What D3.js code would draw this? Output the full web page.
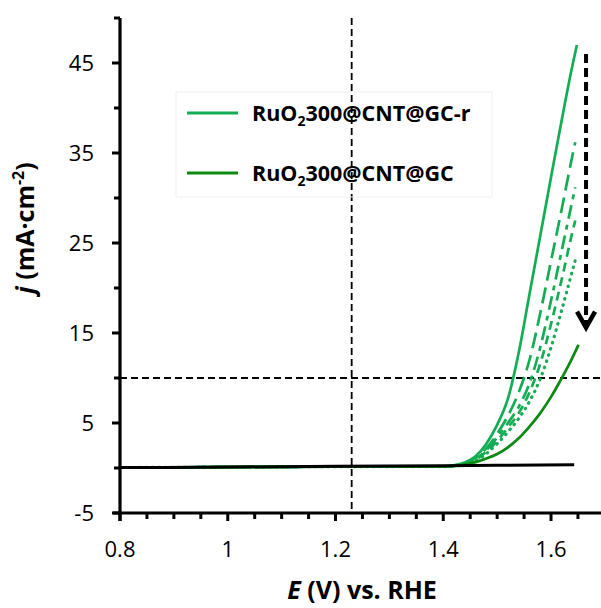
<!DOCTYPE html>
<html><head><meta charset="utf-8">
<script src="https://cdn.jsdelivr.net/npm/d3@7"></script>
<style>body{margin:0;background:#fff}svg{display:block}</style>
</head><body>
<script>
// ---- data ----
const gridE = [0.80, 1.00, 1.20, 1.40, 1.42, 1.44, 1.46, 1.48, 1.50, 1.52, 1.54, 1.56, 1.58, 1.60, 1.62, 1.64];
const scan1 = [0.05, 0.1, 0.15, 0.18, 0.3, 0.6, 1.3, 2.7, 4.8, 7.7, 12.8, 19.3, 25.8, 32.3, 38.7, 44.8];
const scan2 = [0.05, 0.1, 0.15, 0.17, 0.27, 0.5, 1.1, 2.2, 3.8, 5.8, 8.4, 12.0, 17.2, 23.0, 28.8, 34.8];
const scan3 = [0.05, 0.1, 0.15, 0.17, 0.25, 0.45, 1.0, 2.0, 3.4, 5.0, 6.8, 9.4, 13.4, 18.6, 24.2, 29.8];
const scan4 = [0.05, 0.1, 0.15, 0.16, 0.24, 0.4, 0.9, 1.8, 3.0, 4.5, 6.1, 8.4, 11.6, 16.0, 21.0, 26.3];
const scan5 = [0.05, 0.1, 0.15, 0.16, 0.22, 0.38, 0.8, 1.6, 2.7, 4.0, 5.5, 7.4, 9.9, 13.4, 17.6, 22.0];
const scanEnd = [[1.648, 47.0], [1.645, 36.2], [1.645, 31.2], [1.645, 27.5], [1.645, 23.1]];
const gcJ = [0.05, 0.1, 0.15, 0.16, 0.22, 0.38, 0.65, 1.05, 1.55, 2.3, 3.3, 4.6, 6.1, 7.9, 10.0, 12.3];
const gcEnd = [1.651, 13.7];
const blankE = [0.80, 1.00, 1.20, 1.40, 1.50, 1.643];
const blankJ = [0.05, 0.1, 0.2, 0.25, 0.3, 0.35];
const xTicks = [0.8, 1, 1.2, 1.4, 1.6];
const yTicks = [-5, 5, 15, 25, 35, 45];
const refE = 1.23, refJ = 10;
const arrowE = 1.665, arrowFrom = 46, arrowTo = 15.6;
const legendLabels = ["RuO|2|300@CNT@GC-r", "RuO|2|300@CNT@GC"];

const W = 601, H = 608;
const lightGreen = "#14ad54", darkGreen = "#0d8a12";
const x = d3.scaleLinear().domain([0.8, 1.7]).range([120, 604.9]);
const y = d3.scaleLinear().domain([-5, 50]).range([513, 18]);

const svg = d3.select("body").append("svg").attr("width", W).attr("height", H);
const font = "'Open Sans', sans-serif";

// reference dashed lines
svg.append("line").attr("x1", x(refE)).attr("x2", x(refE)).attr("y1", y(50)).attr("y2", y(-5))
  .attr("stroke", "#000").attr("stroke-width", 1.8).attr("stroke-dasharray", "7,4");
svg.append("line").attr("x1", x(0.8)).attr("x2", W).attr("y1", y(refJ)).attr("y2", y(refJ))
  .attr("stroke", "#000").attr("stroke-width", 1.8).attr("stroke-dasharray", "7,4");

// curves
const line = d3.line().x(d => x(d[0])).y(d => y(d[1])).curve(d3.curveMonotoneX);
const scans = [scan1, scan2, scan3, scan4, scan5];
const dashes = [null, "16,7", "14,6,5,6", "9,6", "0.5,6"];
scans.forEach((s, i) => {
  const pts = gridE.map((e, k) => [e, s[k]]).concat([scanEnd[i]]);
  svg.append("path").attr("d", line(pts)).attr("fill", "none")
    .attr("stroke", lightGreen).attr("stroke-width", i === 4 ? 3.2 : 2.7)
    .attr("stroke-linecap", i === 4 ? "round" : "butt")
    .attr("stroke-dasharray", dashes[i]);
});
svg.append("path").attr("d", line(gridE.map((e, k) => [e, gcJ[k]]).concat([gcEnd])))
  .attr("fill", "none").attr("stroke", darkGreen).attr("stroke-width", 2.7);
svg.append("path").attr("d", line(blankE.map((e, k) => [e, blankJ[k]])))
  .attr("fill", "none").attr("stroke", "#000").attr("stroke-width", 3);

// arrow
svg.append("line").attr("x1", x(arrowE)).attr("x2", x(arrowE)).attr("y1", y(arrowFrom)).attr("y2", y(arrowTo) - 4)
  .attr("stroke", "#000").attr("stroke-width", 4).attr("stroke-dasharray", "9,5");
svg.append("path")
  .attr("d", `M${x(arrowE) - 9},${y(arrowTo) - 16} L${x(arrowE)},${y(arrowTo)} L${x(arrowE) + 9},${y(arrowTo) - 16}`)
  .attr("fill", "none").attr("stroke", "#000").attr("stroke-width", 4.5);

// axes
const ax = svg.append("g");
ax.append("line").attr("x1", 113).attr("x2", W).attr("y1", y(-5)).attr("y2", y(-5)).attr("stroke", "#000").attr("stroke-width", 3.2);
ax.append("line").attr("x1", x(0.8)).attr("x2", x(0.8)).attr("y1", y(50)).attr("y2", y(-5) + 8).attr("stroke", "#000").attr("stroke-width", 3.2);
d3.range(0.8, 1.7001, 0.05).forEach(v => {
  const major = xTicks.some(t => Math.abs(t - v) < 1e-6);
  ax.append("line").attr("x1", x(v)).attr("x2", x(v)).attr("y1", y(-5)).attr("y2", y(-5) + (major ? 8 : 6))
    .attr("stroke", "#000").attr("stroke-width", 3);
});
d3.range(-5, 50.001, 5).forEach(v => {
  const major = yTicks.includes(v);
  ax.append("line").attr("x1", x(0.8) - (major ? 8 : 6)).attr("x2", x(0.8)).attr("y1", y(v)).attr("y2", y(v))
    .attr("stroke", "#000").attr("stroke-width", 3);
});
xTicks.forEach(t => {
  svg.append("text").attr("x", x(t)).attr("y", 557).attr("text-anchor", "middle")
    .attr("font-family", font).attr("font-size", 22).attr("fill", "#000").text(String(t));
});
yTicks.forEach(t => {
  svg.append("text").attr("x", 94).attr("y", y(t) + 8).attr("text-anchor", "end")
    .attr("font-family", font).attr("font-size", 22).attr("fill", "#000").text(String(t));
});

// axis titles
const xt = svg.append("text").attr("x", 362).attr("y", 599).attr("text-anchor", "middle")
  .attr("font-family", font).attr("font-size", 25).attr("font-weight", 700).attr("fill", "#000");
xt.append("tspan").attr("font-style", "italic").text("E");
xt.append("tspan").text(" (V) vs. RHE");

const yt = svg.append("text").attr("transform", "translate(34,228) rotate(-90)").attr("text-anchor", "middle")
  .attr("font-family", font).attr("font-size", 25).attr("font-weight", 700).attr("fill", "#000");
yt.append("tspan").attr("font-style", "italic").text("j");
yt.append("tspan").text(" (mA·cm");
yt.append("tspan").attr("font-size", 16).attr("dy", -10).text("-2");
yt.append("tspan").attr("dy", 10).text(")");

// legend
svg.append("rect").attr("x", 176).attr("y", 92).attr("width", 316).attr("height", 105)
  .attr("fill", "none").attr("stroke", "#f0f0f0").attr("stroke-width", 1);
const legY = [113, 173];
const legColors = [lightGreen, darkGreen];
legendLabels.forEach((lab, i) => {
  svg.append("line").attr("x1", 187).attr("x2", 238).attr("y1", legY[i]).attr("y2", legY[i])
    .attr("stroke", legColors[i]).attr("stroke-width", 3);
  const parts = lab.split("|");
  const t = svg.append("text").attr("x", 252).attr("y", legY[i] + 8)
    .attr("font-family", font).attr("font-size", 21.5).attr("font-weight", 700).attr("fill", "#000");
  t.append("tspan").text(parts[0]);
  t.append("tspan").attr("font-size", 14).attr("dy", 5).text(parts[1]);
  t.append("tspan").attr("dy", -5).text(parts[2]);
});
</script>
</body></html>
